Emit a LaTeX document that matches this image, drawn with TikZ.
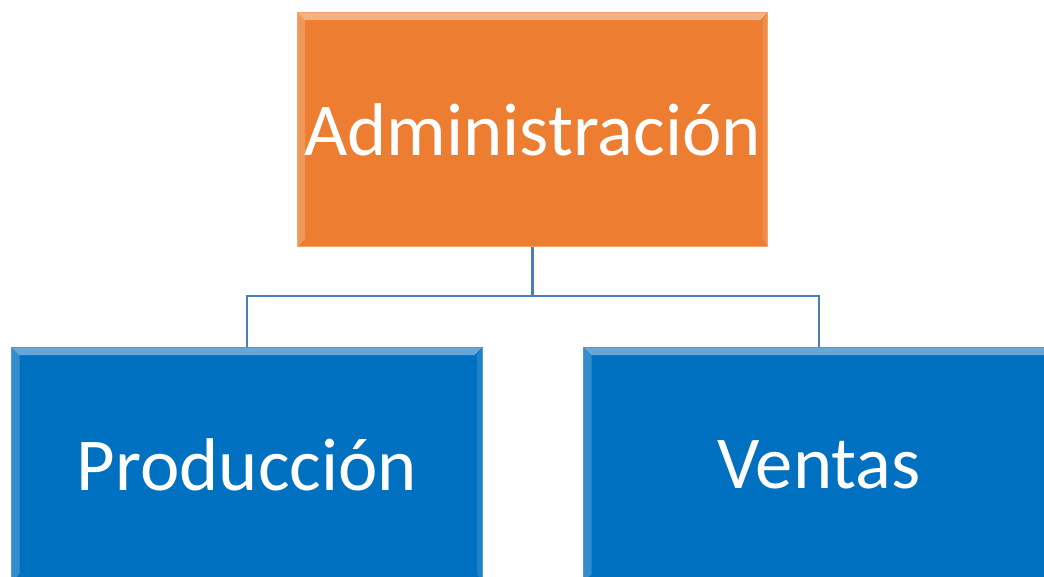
\documentclass[tikz,border=0pt]{standalone}
\usepackage{fontspec}
\setmainfont{Carlito}
\usetikzlibrary{positioning}

\definecolor{admorange}{HTML}{ED7D31}
\definecolor{depblue}{HTML}{0070C0}
\definecolor{linkblue}{HTML}{4A7EBB}

\begin{document}
\begin{tikzpicture}[
    x=0.75pt, y=-0.75pt,
    bx/.style={
        minimum width=353pt,
        minimum height=176pt,
        inner sep=0pt,
        text=white,
        font=\fontsize{56}{60}\selectfont,
        draw=#1!70!white,
        line width=0.6pt,
        fill=#1,
        path picture={
            \fill[white,opacity=.4]
                (path picture bounding box.north west) --
                (path picture bounding box.north east) --
                ([xshift=-6pt,yshift=-6pt]path picture bounding box.north east) --
                ([xshift=6pt,yshift=-6pt]path picture bounding box.north west) -- cycle;
            \fill[white,opacity=.2]
                (path picture bounding box.north west) --
                ([xshift=6pt,yshift=-6pt]path picture bounding box.north west) --
                ([xshift=6pt,yshift=6pt]path picture bounding box.south west) --
                (path picture bounding box.south west) -- cycle;
            \fill[white,opacity=.12]
                (path picture bounding box.north east) --
                ([xshift=-4pt,yshift=-6pt]path picture bounding box.north east) --
                ([xshift=-4pt,yshift=6pt]path picture bounding box.south east) --
                (path picture bounding box.south east) -- cycle;
        },
    },
    boss/.style={bx=admorange},
    dept/.style={bx=depblue},
    link/.style={draw=linkblue, line width=2.2pt},
]
    \useasboundingbox (0,0) rectangle (1044,577);
    \clip (0,0) rectangle (1044,577);
    % ~~~ boxes ~~~~~~~~~~~~
    \node[boss] (adm)  at (532.5,129.5) {Administración};
    \node[dept] (prod) at (247,464.5)   {Producción};
    \node[dept] (ven)  at (819,464.5)   {Ventas};
    % ~~~ connectors ~~~~~~~~~
    \coordinate (bus) at (532.5,296);
    \draw[link] (adm.south) -- (bus);
    \draw[link] (bus) -| (prod.north);
    \draw[link] (bus) -| (ven.north);
\end{tikzpicture}
\end{document}
